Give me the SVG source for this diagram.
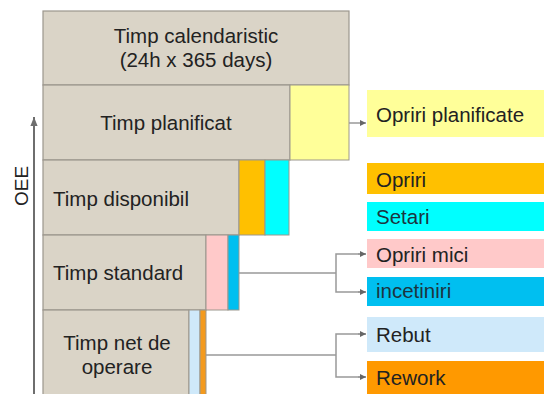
<svg xmlns="http://www.w3.org/2000/svg" width="544" height="394" viewBox="0 0 544 394">
<defs>
<marker id="arr" viewBox="0 0 10 10" refX="10" refY="5" markerWidth="6" markerHeight="6" markerUnits="userSpaceOnUse" orient="auto">
<path d="M0,0 L10,5 L0,10 z" fill="#666"/>
</marker>
<marker id="arrAxis" viewBox="0 0 10 10" refX="10" refY="5" markerWidth="9" markerHeight="9" markerUnits="userSpaceOnUse" orient="auto">
<path d="M0,1 L10,5 L0,9 z" fill="#6e6e6e"/>
</marker>
<style>
.box{fill:#dad4c7;stroke:#9c978d;stroke-width:1.2}
.bar{stroke:#9c978d;stroke-width:1}
.t{font-family:"Liberation Sans",Arial,sans-serif;font-size:20.5px;fill:#222}
.c{text-anchor:middle}
.conn{fill:none;stroke:#999;stroke-width:1.5}
</style>
</defs>
<rect width="544" height="394" fill="#fff"/>

<g id="axis">
<line x1="34" y1="394" x2="34" y2="117" stroke="#6e6e6e" stroke-width="2" marker-end="url(#arrAxis)"/>
<text class="t" x="0" y="0" transform="translate(28,186) rotate(-90)" text-anchor="middle" style="font-size:19px">OEE</text>
</g>

<g id="calendaristic">
<rect class="box" x="43" y="11" width="306" height="74"/>
<text class="t c" x="196" y="43">Timp calendaristic</text>
<text class="t c" x="196" y="67">(24h x 365 days)</text>
</g>

<g id="planificat">
<rect class="box" x="43" y="85" width="247" height="75"/>
<rect class="bar" x="290" y="85" width="59" height="75" fill="#ffff99"/>
<text class="t c" x="166" y="130">Timp planificat</text>
</g>

<g id="disponibil">
<rect class="box" x="43" y="160" width="196" height="75"/>
<rect class="bar" x="239" y="160" width="26" height="75" fill="#ffc000"/>
<rect class="bar" x="265" y="160" width="24" height="75" fill="#00ffff"/>
<text class="t" x="53" y="206">Timp disponibil</text>
</g>

<g id="standard">
<rect class="box" x="43" y="235" width="163" height="75"/>
<rect class="bar" x="206" y="235" width="22" height="75" fill="#ffc9c9"/>
<rect class="bar" x="228" y="235" width="11" height="75" fill="#00bff0"/>
<text class="t" x="53" y="280">Timp standard</text>
</g>

<g id="net">
<rect class="box" x="43" y="310" width="146" height="90"/>
<rect class="bar" x="189" y="310" width="11" height="90" fill="#cfe9fa"/>
<rect class="bar" x="200" y="310" width="6" height="90" fill="#f39a1e"/>
<text class="t c" x="117" y="350">Timp net de</text>
<text class="t c" x="117" y="374">operare</text>
</g>

<g id="opriri-planificate">
<rect x="367" y="90" width="177" height="47" fill="#ffff99"/>
<text class="t" x="376" y="122">Opriri planificate</text>
</g>
<g id="opriri">
<rect x="367" y="163" width="177" height="31" fill="#ffc000"/>
<text class="t" x="376" y="187">Opriri</text>
</g>
<g id="setari">
<rect x="367" y="202" width="177" height="29" fill="#00ffff"/>
<text class="t" x="376" y="224" style="fill:#1c3440">Setari</text>
</g>
<g id="opriri-mici">
<rect x="367" y="239" width="177" height="29" fill="#ffc9c9"/>
<text class="t" x="376" y="262">Opriri mici</text>
</g>
<g id="incetiniri">
<rect x="367" y="277" width="177" height="29" fill="#00bff0"/>
<text class="t" x="376" y="298" style="fill:#1c3440">incetiniri</text>
</g>
<g id="rebut">
<rect x="367" y="317" width="177" height="35" fill="#cfe9fa"/>
<text class="t" x="376" y="342">Rebut</text>
</g>
<g id="rework">
<rect x="367" y="361" width="177" height="40" fill="#ff9900"/>
<text class="t" x="376" y="385">Rework</text>
</g>

<g id="connectors">
<line class="conn" x1="349" y1="123" x2="366" y2="123" marker-end="url(#arr)"/>
<polyline class="conn" points="239,273 336,273"/>
<polyline class="conn" points="366,254 336,254 336,292 366,292"/>
<line class="conn" x1="358" y1="254" x2="366" y2="254" marker-end="url(#arr)"/>
<line class="conn" x1="358" y1="292" x2="366" y2="292" marker-end="url(#arr)"/>
<polyline class="conn" points="206,355 336,355"/>
<polyline class="conn" points="366,334 336,334 336,377 366,377"/>
<line class="conn" x1="358" y1="334" x2="366" y2="334" marker-end="url(#arr)"/>
<line class="conn" x1="358" y1="377" x2="366" y2="377" marker-end="url(#arr)"/>
</g>
</svg>
